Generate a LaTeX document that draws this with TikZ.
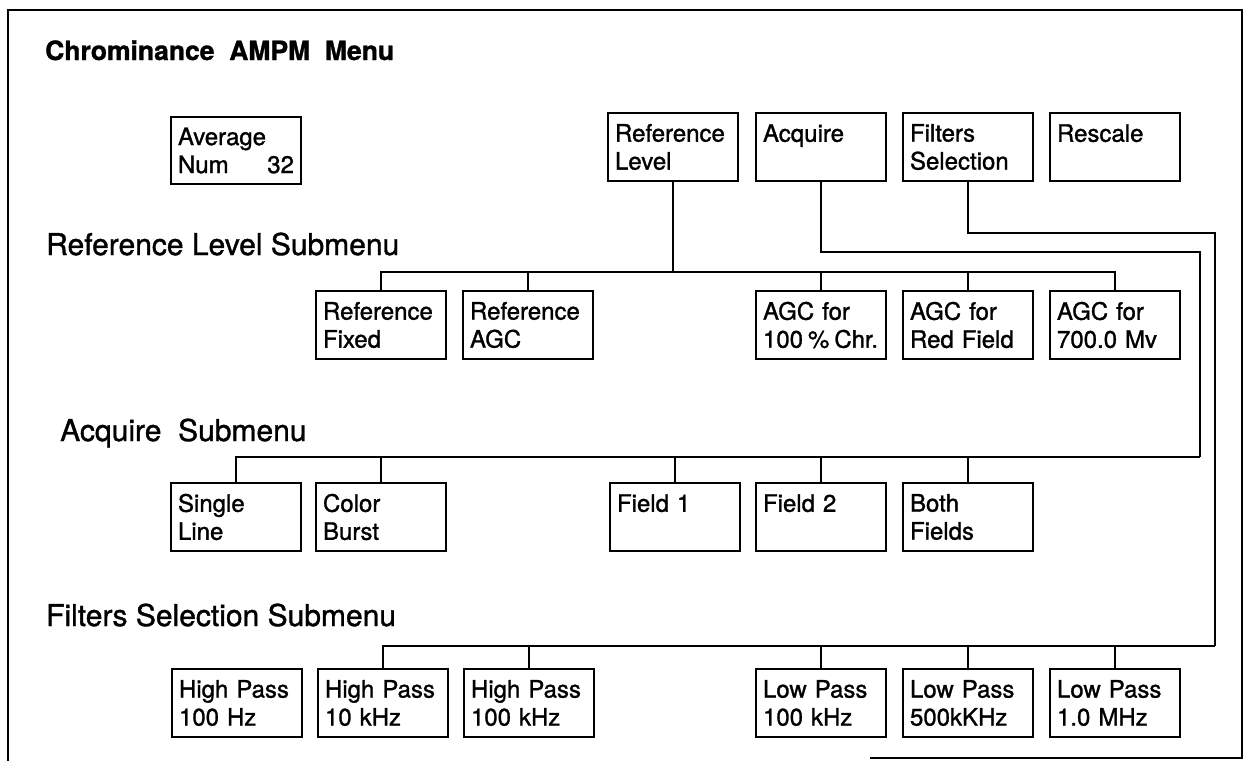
\documentclass[tikz,border=0pt]{standalone}
\usepackage{fontspec}
\setmainfont{TeX Gyre Heros}[FakeBold=1.2]
\usetikzlibrary{positioning,calc}

\begin{document}
\begin{tikzpicture}[x=1pt, y=-1pt,
  menubox/.style = {draw, line width=1.8pt, minimum width=130pt, minimum height=68pt,
                    text width=116pt, inner xsep=7pt, align=left,
                    font=\fontsize{24}{28}\selectfont},
  heading/.style = {anchor=base west, inner sep=0pt, font=\fontsize{30}{34}\selectfont},
  wire/.style    = {line width=1.8pt}
]
  \useasboundingbox (0,0) rectangle (1252,761);
  % outer frame (bottom edge only partly printed)
  \draw[wire] (870,758) -- (1242,758) -- (1242,10) -- (8,10) -- (8,761);

  \node[heading, font=\bfseries\fontsize{26.5}{30}\selectfont] (title) at (45,60)
    {Chrominance\ \ AMPM\ \ Menu};

  % main menu
  \node[menubox, minimum height=67pt] (avg) at (236,150.5)
    {Average\\Num\hfill 32\hspace*{4pt}};
  \foreach \n/\x/\t in {rl/673/{Reference\\Level}, aq/821/{Acquire\\\mbox{}},
                        fs/968/{Filters\\Selection}, rs/1115/{Rescale\\\mbox{}}}{
    \node[menubox] (\n) at (\x,147) {\t};
  }

  % reference level submenu
  \node[heading] (hrl) at (46,255) {Reference Level Submenu};
  \foreach \n/\x/\t in {rf/381/{Reference\\Fixed}, ra/528/{Reference\\AGC},
                        g1/821/{AGC for\\100\hspace{5pt}\%\hspace{5pt}Chr.}, g2/968/{AGC for\\Red Field},
                        g3/1115/{AGC for\\700.0 Mv}}{
    \node[menubox] (\n) at (\x,325) {\t};
  }

  % acquire submenu
  \node[heading] (haq) at (60,441) {Acquire\ \ Submenu};
  \foreach \n/\x/\t in {sl/236/{Single\\Line}, cb/381/{Color\\Burst},
                        f1/675/{Field 1\\\mbox{}}, f2/821/{Field 2\\\mbox{}},
                        bf/968/{Both\\Fields}}{
    \node[menubox] (\n) at (\x,517) {\t};
  }

  % filters selection submenu
  \node[heading] (hfs) at (46,626) {Filters\ Selection\ Submenu};
  \foreach \n/\x/\t in {h1/237/{High Pass\\100 Hz}, h2/383/{High Pass\\10 kHz},
                        h3/529/{High Pass\\100 kHz}, l1/821/{Low Pass\\100 kHz},
                        l2/968/{Low Pass\\500kKHz}, l3/1115/{Low Pass\\1.0 MHz}}{
    \node[menubox] (\n) at (\x,703) {\t};
  }

  % connectors
  \coordinate (rlbus) at (673,272);
  \draw[wire] (rl.south) -- (rlbus);
  \foreach \b in {rf,ra,g1,g2,g3}{
    \draw[wire] (\b.north) |- (rlbus);
  }

  \coordinate (aqturn) at (1200,252);
  \coordinate (aqbus) at (1200,457);
  \draw[wire] (aq.south) |- (aqturn) -- (aqbus);
  \foreach \b in {sl,cb,f1,f2,bf}{
    \draw[wire] (\b.north) |- (aqbus);
  }

  \coordinate (fsturn) at (1215,233);
  \coordinate (fsbus) at (1215,646);
  \draw[wire] (fs.south) |- (fsturn) -- (fsbus);
  \foreach \b in {h2,h3,l1,l2,l3}{
    \draw[wire] (\b.north) |- (fsbus);
  }
\end{tikzpicture}
\end{document}
